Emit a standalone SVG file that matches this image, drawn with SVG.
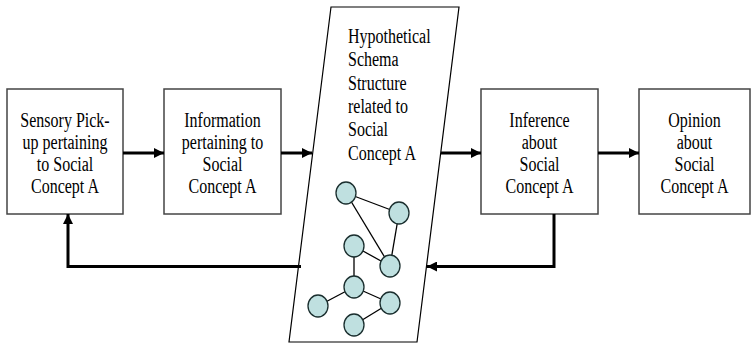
<svg xmlns="http://www.w3.org/2000/svg" width="752" height="348" viewBox="0 0 752 348">
<defs>
<marker id="ah" markerWidth="10" markerHeight="10" refX="10" refY="5" orient="auto" markerUnits="userSpaceOnUse">
<path d="M0,0 L10,5 L0,10 Z" fill="#000"/>
</marker>
<style>
.box{fill:#fff;stroke:#444;stroke-width:1.5}
.para{fill:#fff;stroke:#000;stroke-width:1.2}
.lbl{font-size:16px;fill:#000}
.c{text-anchor:middle}
.conn{fill:none;stroke:#000;stroke-width:3}
.nd{fill:#bfe0e0;stroke:#1a2e2e;stroke-width:1.3}
.ed{stroke:#000;stroke-width:1.3}
</style>
</defs>
<rect width="752" height="348" fill="#fff"/>
<g id="schema">
<polygon class="para" points="331,7 459,7 417,342 289,342"/>
<text class="lbl" font-family="'Liberation Serif', 'Times New Roman', serif" transform="translate(348,43) scale(1,1.25)"><tspan x="0" y="0">Hypothetical</tspan><tspan x="0" dy="18.7">Schema</tspan><tspan x="0" dy="18.7">Structure</tspan><tspan x="0" dy="18.7">related to</tspan><tspan x="0" dy="18.7">Social</tspan><tspan x="0" dy="18.7">Concept A</tspan></text>
<g id="network">
<line class="ed" x1="346" y1="193" x2="399" y2="213"/>
<line class="ed" x1="346" y1="193" x2="390" y2="266"/>
<line class="ed" x1="399" y1="213" x2="390" y2="266"/>
<line class="ed" x1="354" y1="246" x2="390" y2="266"/>
<line class="ed" x1="354" y1="246" x2="354" y2="287"/>
<line class="ed" x1="354" y1="287" x2="318" y2="306"/>
<line class="ed" x1="354" y1="287" x2="390" y2="303"/>
<line class="ed" x1="390" y1="303" x2="354" y2="325"/>
<ellipse class="nd" cx="346" cy="193" rx="10" ry="11"/>
<ellipse class="nd" cx="399" cy="213" rx="10" ry="11"/>
<ellipse class="nd" cx="354" cy="246" rx="10" ry="11"/>
<ellipse class="nd" cx="390" cy="266" rx="10" ry="11"/>
<ellipse class="nd" cx="354" cy="287" rx="10" ry="11"/>
<ellipse class="nd" cx="318" cy="306" rx="10" ry="11"/>
<ellipse class="nd" cx="390" cy="303" rx="10" ry="11"/>
<ellipse class="nd" cx="354" cy="325" rx="10" ry="11"/>
</g>
</g>
<g id="sensory">
<rect class="box" x="7" y="89" width="116" height="125"/>
<text class="lbl c" font-family="'Liberation Serif', 'Times New Roman', serif" transform="translate(65,127) scale(1,1.25)"><tspan x="0" y="0">Sensory Pick-</tspan><tspan x="0" dy="17.7">up pertaining</tspan><tspan x="0" dy="17.7">to Social</tspan><tspan x="0" dy="17.7">Concept A</tspan></text>
</g>
<g id="information">
<rect class="box" x="164" y="89" width="117" height="125"/>
<text class="lbl c" font-family="'Liberation Serif', 'Times New Roman', serif" transform="translate(222.5,127) scale(1,1.25)"><tspan x="0" y="0">Information</tspan><tspan x="0" dy="17.7">pertaining to</tspan><tspan x="0" dy="17.7">Social</tspan><tspan x="0" dy="17.7">Concept A</tspan></text>
</g>
<g id="inference">
<rect class="box" x="481" y="89" width="117" height="125"/>
<text class="lbl c" font-family="'Liberation Serif', 'Times New Roman', serif" transform="translate(539.5,127) scale(1,1.25)"><tspan x="0" y="0">Inference</tspan><tspan x="0" dy="17.7">about</tspan><tspan x="0" dy="17.7">Social</tspan><tspan x="0" dy="17.7">Concept A</tspan></text>
</g>
<g id="opinion">
<rect class="box" x="639" y="89" width="111" height="125"/>
<text class="lbl c" font-family="'Liberation Serif', 'Times New Roman', serif" transform="translate(694.5,127) scale(1,1.25)"><tspan x="0" y="0">Opinion</tspan><tspan x="0" dy="17.7">about</tspan><tspan x="0" dy="17.7">Social</tspan><tspan x="0" dy="17.7">Concept A</tspan></text>
</g>
<g id="connectors">
<line class="conn" x1="123" y1="153" x2="164" y2="153" marker-end="url(#ah)"/>
<line class="conn" x1="281" y1="153" x2="312" y2="153" marker-end="url(#ah)"/>
<line class="conn" x1="441" y1="153" x2="481" y2="153" marker-end="url(#ah)"/>
<line class="conn" x1="598" y1="153" x2="639" y2="153" marker-end="url(#ah)"/>
<polyline class="conn" points="554,214 554,266.5 427,266.5" marker-end="url(#ah)"/>
<polyline class="conn" points="301,266.5 68,266.5 68,214" marker-end="url(#ah)"/>
</g>
</svg>
